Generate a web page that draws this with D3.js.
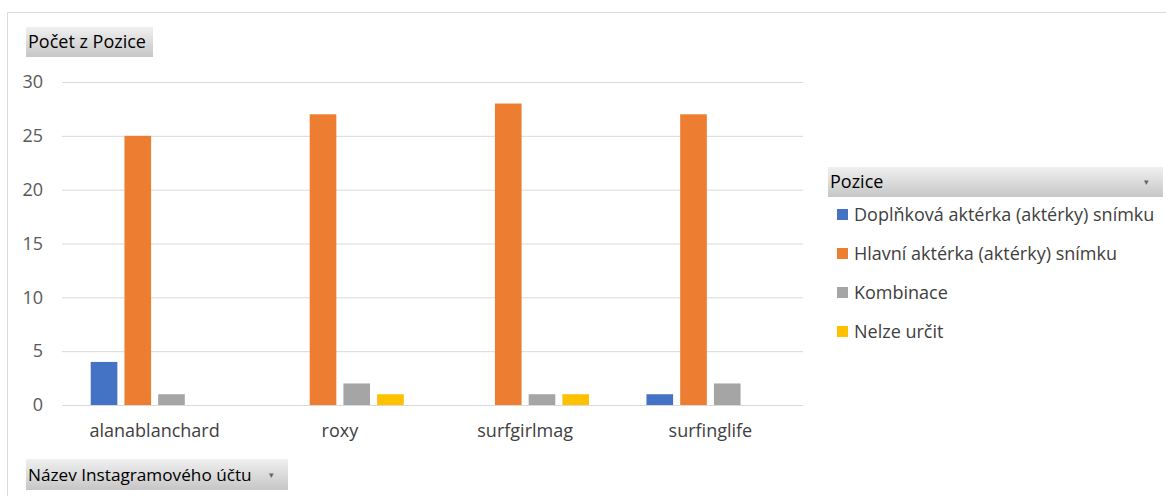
<!DOCTYPE html>
<html>
<head>
<meta charset="utf-8">
<script src="https://cdn.jsdelivr.net/npm/d3@7"></script>
<style>
  body { margin: 0; background: #fff; }
  svg, svg text { font-family: "Open Sans", "Noto Sans", sans-serif; }
</style>
</head>
<body>
<div class="chart"></div>
<script>
const WIDTH = 1166;
const HEIGHT = 496;
const PLOT = {LEFT: 62, RIGHT: 803, TOP: 82, BOTTOM: 405};
const FONT = '"Open Sans", "Noto Sans", sans-serif';

const categories = ['alanablanchard', 'roxy', 'surfgirlmag', 'surfinglife'];
const seriesNames = ['Doplňková aktérka (aktérky) snímku', 'Hlavní aktérka (aktérky) snímku', 'Kombinace', 'Nelze určit'];
const doplnkova = [4, 0, 0, 1];
const hlavni = [25, 27, 28, 27];
const kombinace = [1, 2, 1, 2];
const nelze = [0, 1, 1, 0];
const yTicks = [0, 5, 10, 15, 20, 25, 30];
const colors = ['#4472C4', '#ED7D31', '#A5A5A5', '#FFC000'];

const seriesValues = [doplnkova, hlavni, kombinace, nelze];

var svg = d3.select('.chart').append('svg')
    .attr('width', WIDTH)
    .attr('height', HEIGHT);

// gradient for the pivot buttons
var defs = svg.append('defs');
var grad = defs.append('linearGradient')
    .attr('id', 'btn').attr('x1', 0).attr('y1', 0).attr('x2', 0).attr('y2', 1);
grad.append('stop').attr('offset', '0%').attr('stop-color', '#f0f0f0');
grad.append('stop').attr('offset', '100%').attr('stop-color', '#c6c6c6');

// outer frame (top and left edges)
svg.append('path')
    .attr('d', 'M7.5,' + HEIGHT + ' V12.5 H' + WIDTH)
    .attr('fill', 'none')
    .attr('stroke', '#d9d9d9')
    .attr('stroke-width', 1);

var x0 = d3.scaleBand()
    .domain(categories)
    .range([PLOT.LEFT, PLOT.RIGHT])
    .paddingInner(0.31)
    .paddingOuter(0.155);

var x1 = d3.scaleBand()
    .domain(d3.range(seriesNames.length))
    .range([0, x0.bandwidth()])
    .paddingInner(0.21);

var y = d3.scaleLinear()
    .domain([0, 30])
    .range([PLOT.BOTTOM, PLOT.TOP]);

// gridlines + y labels
var yAxisG = svg.append('g')
    .attr('transform', 'translate(' + PLOT.LEFT + ',0)')
    .call(d3.axisLeft(y)
        .tickValues(yTicks)
        .tickSizeInner(-(PLOT.RIGHT - PLOT.LEFT))
        .tickSizeOuter(0)
        .tickPadding(19));
yAxisG.attr('font-family', FONT).attr('font-size', 18);
yAxisG.select('.domain').remove();
yAxisG.selectAll('line').attr('stroke', '#d9d9d9');
yAxisG.selectAll('text').attr('fill', '#595959');

// bars
var groups = svg.append('g').selectAll('g')
    .data(categories)
    .join('g')
    .attr('transform', d => 'translate(' + x0(d) + ',0)');

groups.selectAll('rect')
    .data((d, i) => seriesValues.map((vals, s) => ({s: s, v: vals[i]})))
    .join('rect')
    .attr('x', d => x1(d.s))
    .attr('y', d => y(d.v))
    .attr('width', x1.bandwidth())
    .attr('height', d => y(0) - y(d.v))
    .attr('fill', d => colors[d.s]);

// category labels
var xAxisG = svg.append('g')
    .attr('transform', 'translate(0,' + PLOT.BOTTOM + ')')
    .call(d3.axisBottom(x0).tickSize(0).tickPadding(19));
xAxisG.attr('font-family', FONT).attr('font-size', 18);
xAxisG.select('.domain').remove();
xAxisG.selectAll('text').attr('fill', '#404040');

// pivot field buttons
function button(x, yy, w, h, label, arrow, size) {
    var g = svg.append('g');
    g.append('rect')
        .attr('x', x).attr('y', yy).attr('width', w).attr('height', h)
        .attr('fill', 'url(#btn)');
    g.append('text')
        .attr('x', x + 2).attr('y', yy + h / 2 + 6)
        .attr('fill', '#000')
        .style('font-size', size + 'px')
        .text(label);
    if (arrow) {
        g.append('text')
            .attr('x', x + w - 19).attr('y', yy + h / 2 + 3)
            .attr('fill', '#666')
            .style('font-size', '9px')
            .text('▾');
    }
}
button(26, 27, 127, 30, 'Počet z Pozice', false, 18);
button(26, 459, 262, 31, 'Název Instagramového účtu', true, 17.2);
button(828, 167, 335, 30, 'Pozice', true, 18);

// legend
var legend = svg.append('g').selectAll('g')
    .data(seriesNames)
    .join('g')
    .attr('transform', (d, i) => 'translate(837,' + (215 + i * 39) + ')');
legend.append('rect')
    .attr('x', 0).attr('y', -6)
    .attr('width', 11).attr('height', 11)
    .attr('fill', (d, i) => colors[i]);
legend.append('text')
    .attr('x', 17).attr('y', 6)
    .attr('fill', '#404040')
    .style('font-size', '18px')
    .text(d => d);
</script>
</body>
</html>
